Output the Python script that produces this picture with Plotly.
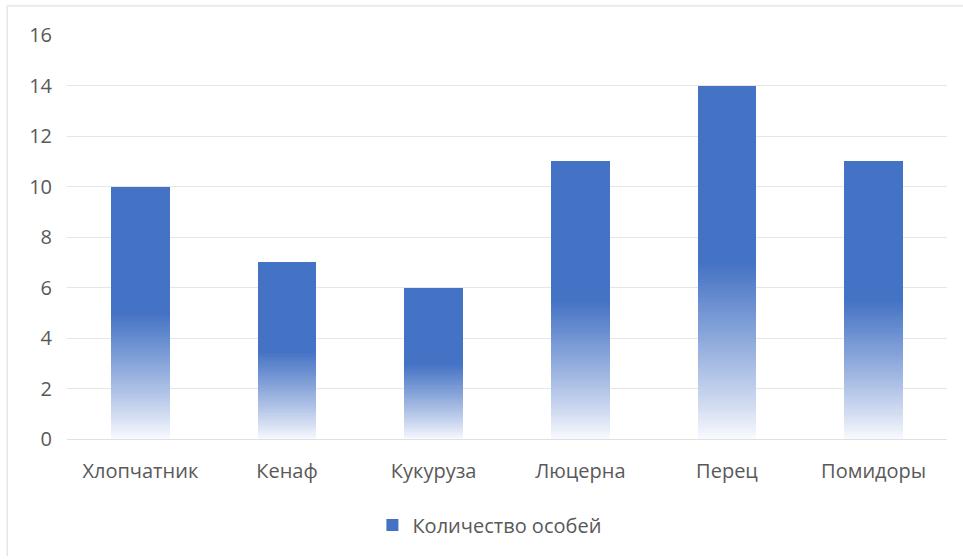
import plotly.graph_objects as go

categories = ["Хлопчатник", "Кенаф", "Кукуруза", "Люцерна", "Перец", "Помидоры"]
values = [10, 7, 6, 11, 14, 11]
series_name = "Количество особей"
y_ticks = [0, 2, 4, 6, 8, 10, 12, 14, 16]

BASE = (68, 114, 196)   # #4472C4
N_FADE = 60
FONT = "Open Sans"
TXT = "#595959"

def mix(t):
    # t=0 -> nearly white, t=1 -> base blue
    w = (250, 251, 254)
    r = [round(w[i] + (BASE[i] - w[i]) * t) for i in range(3)]
    return f"rgb({r[0]},{r[1]},{r[2]})"

fig = go.Figure()
# lower half: gradient layers
for k in range(N_FADE):
    t = (k + 0.5) / N_FADE
    fig.add_trace(go.Bar(
        x=categories,
        y=[v / 2 / N_FADE for v in values],
        marker=dict(color=mix(t ** 0.9), line=dict(width=0)),
        showlegend=False, hoverinfo="skip", width=0.4,
    ))
# upper half: solid
fig.add_trace(go.Bar(
    x=categories,
    y=[v / 2 for v in values],
    name=series_name,
    marker=dict(color="rgb(68,114,196)", line=dict(width=0)),
    showlegend=True, width=0.4,
))

fig.update_layout(
    barmode="stack",
    bargap=0,
    width=963, height=559,
    margin=dict(l=67, r=16, t=35, b=120),
    paper_bgcolor="white", plot_bgcolor="white",
    font=dict(family=FONT, size=20, color=TXT),
    xaxis=dict(showgrid=False, showline=False, ticks="", ticklabelstandoff=18,
               tickfont=dict(size=20, color=TXT)),
    yaxis=dict(range=[0, 16], tickvals=y_ticks, showgrid=True, gridcolor="#E6E6E6",
               gridwidth=1, zeroline=True, zerolinecolor="#E0E0E0", zerolinewidth=1,
               showline=False, ticks="", ticklabelstandoff=14,
               tickfont=dict(size=20, color=TXT)),
    legend=dict(orientation="h", x=0.48, xanchor="center", y=-0.213, yanchor="middle",
                font=dict(size=20, color=TXT), itemwidth=30),
    shapes=[
        dict(type="line", xref="paper", yref="paper", x0=-0.068, x1=1.1, y0=1.072, y1=1.072,
             line=dict(color="#D9D9D9", width=1)),
        dict(type="line", xref="paper", yref="paper", x0=-0.068, x1=-0.068, y0=1.072, y1=-0.29,
             line=dict(color="#D9D9D9", width=1)),
    ],
)

fig.write_html("out.html")
